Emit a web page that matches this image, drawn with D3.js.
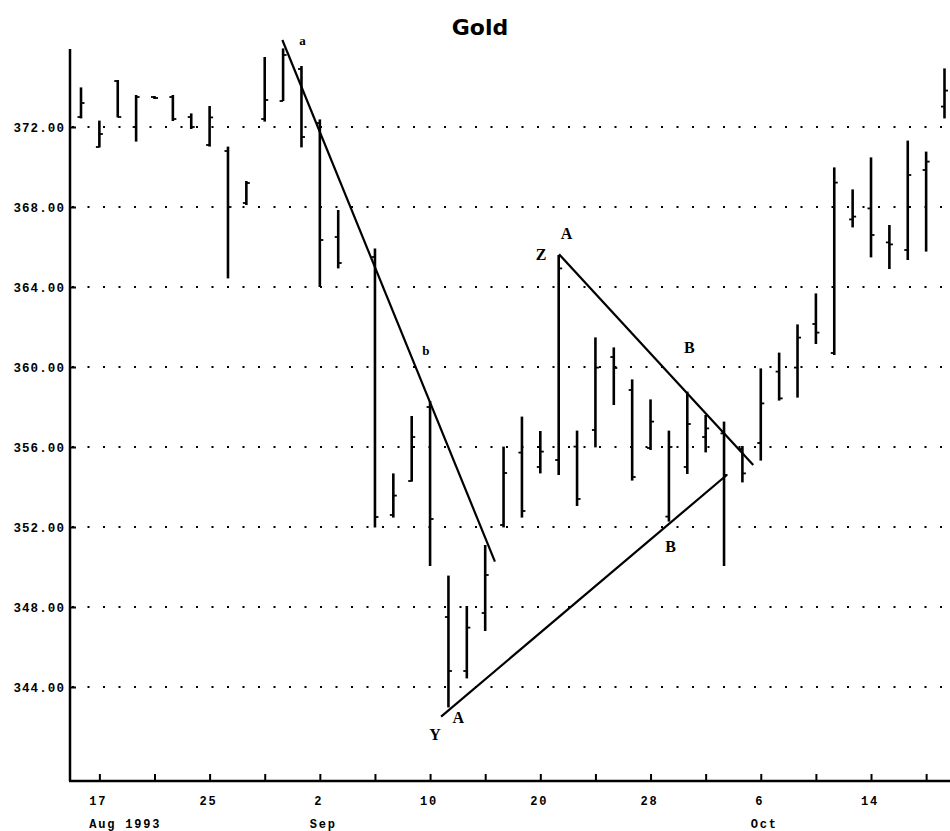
<!DOCTYPE html>
<html>
<head>
<meta charset="utf-8">
<script src="https://cdn.jsdelivr.net/npm/d3@7"></script>
<style>
  html, body { margin: 0; padding: 0; background: #fff; }
  svg { display: block; }
</style>
</head>
<body>
<svg id="chart" width="950" height="831"></svg>
<script>
// ---- data ----
const dates = ["Aug 16","Aug 17","Aug 18","Aug 19","Aug 20","Aug 23","Aug 24","Aug 25","Aug 26","Aug 27",
  "Aug 30","Aug 31","Sep 1","Sep 2","Sep 3","Sep 6","Sep 7","Sep 8","Sep 9","Sep 10",
  "Sep 13","Sep 14","Sep 15","Sep 16","Sep 17","Sep 20","Sep 21","Sep 22","Sep 23","Sep 24",
  "Sep 27","Sep 28","Sep 29","Sep 30","Oct 1","Oct 4","Oct 5","Oct 6","Oct 7","Oct 8",
  "Oct 11","Oct 12","Oct 13","Oct 14","Oct 15","Oct 18","Oct 19","Oct 20"];
const open  = [372.5,371.0,374.3,372.0,373.5,373.5,372.5,371.1,370.8,368.2,
  372.4,373.3,374.9,372.2,366.5,null,365.5,352.6,354.3,358.0,
  347.5,344.8,347.7,352.1,355.72,355.0,355.35,356.02,356.85,360.5,
  358.85,355.95,352.52,355.0,356.5,356.68,355.9,356.2,359.77,359.97,
  362.15,360.7,367.38,367.93,366.23,365.85,369.85,373.02];
const high  = [373.98,372.32,374.35,373.6,373.55,373.6,372.68,373.05,371.02,369.3,
  375.5,375.93,375.05,372.38,367.85,null,365.93,354.68,357.55,358.3,
  349.57,348.05,351.1,356.02,357.52,356.8,365.6,356.82,361.48,360.98,
  359.38,358.38,356.82,358.77,357.6,357.27,356.05,359.93,360.72,362.13,
  363.68,369.98,368.88,370.48,367.1,371.32,370.77,374.93];
const low   = [372.43,370.98,372.48,371.27,373.4,372.3,371.9,371.02,364.43,368.1,
  372.27,373.3,370.98,364.0,364.93,null,351.98,352.47,354.27,350.05,
  342.98,344.43,346.8,351.98,352.47,354.68,354.6,353.05,355.98,358.1,
  354.32,355.85,352.27,354.65,355.73,350.05,354.23,355.32,358.32,358.47,
  361.15,360.6,366.98,365.48,364.9,365.35,365.77,372.43];
const close = [373.2,371.65,372.5,373.5,373.45,372.4,372.0,372.48,368.0,369.2,
  373.35,375.6,371.5,366.35,365.2,null,352.5,353.57,356.5,352.4,
  344.8,346.97,349.6,354.7,352.8,355.77,364.93,353.4,359.97,359.95,
  354.5,357.27,356.0,357.15,356.93,354.6,354.68,358.18,358.43,361.47,
  361.72,369.22,367.52,366.6,366.13,369.6,370.27,373.82];

const yTicks = [344, 348, 352, 356, 360, 364, 368, 372];
const xTickIdx = [1,4,7,10,13,16,19,22,25,28,31,34,37,40,43,46];
const xLabelIdx = [1,7,13,19,25,31,37,43];
const xLabels = ["17","25","2","10","20","28","6","14"];
const monthIdx = [1,13,37];
const monthLabels = ["Aug 1993","Sep","Oct"];

// trend lines: [slot index, price]
const lineA = [[10.96,376.35],[22.53,350.27]];
const lineUpper = [[26.02,365.64],[36.59,355.1]];
const lineLower = [[19.6,342.52],[35.15,354.6]];
const smallNotes = [["a",12.05,376.1],["b",18.77,360.6]];
const bigNotes = [["Z",25.04,365.35],["A",26.43,366.4],["B",33.11,360.69],
  ["B",32.09,350.75],["Y",19.27,341.35],["A",20.54,342.18]];

// ---- chart ----
const svg = d3.select("#chart");
const x = d3.scaleLinear().domain([0, dates.length - 1]).range([81, 944.5]);
const y = d3.scaleLinear().domain([344, 372]).range([687, 127]);
const axisX = 70, yBottom = y(339.3), yTop = y(375.9);

// title
svg.append("text").attr("x", 480).attr("y", 35).attr("text-anchor", "middle")
  .style("font-family", "'DejaVu Sans', sans-serif").style("font-weight", "bold")
  .style("font-size", "22px").text("Gold");

// gridlines
svg.append("g").selectAll("line").data(yTicks).join("line")
  .attr("x1", axisX + 2).attr("x2", 950)
  .attr("y1", d => y(d)).attr("y2", d => y(d))
  .attr("stroke", "#000").attr("stroke-width", 2)
  .attr("stroke-dasharray", "2,13.5");

// y axis
const gy = svg.append("g").attr("transform", `translate(${axisX},0)`)
  .call(d3.axisLeft(y).tickValues(yTicks).tickFormat(d3.format(".2f"))
    .tickSizeInner(-6).tickSizeOuter(0).tickPadding(5));
gy.select(".domain").remove();
gy.selectAll(".tick line").attr("stroke", "#000").attr("stroke-width", 2);
gy.selectAll(".tick text").style("font-family", "'Liberation Mono', monospace")
  .style("font-weight", "bold").style("font-size", "12.5px").style("letter-spacing", "1.1px")
  .attr("fill", "#000");

svg.append("line").attr("x1", axisX).attr("x2", axisX).attr("y1", yTop).attr("y2", yBottom)
  .attr("stroke", "#000").attr("stroke-width", 2.5);

// x axis
const gx = svg.append("g").attr("transform", `translate(0,${yBottom})`)
  .call(d3.axisBottom(x).tickValues(xTickIdx).tickFormat("").tickSizeInner(-7).tickSizeOuter(0));
gx.select(".domain").remove();
gx.selectAll(".tick line").attr("stroke", "#000").attr("stroke-width", 2);
svg.append("line").attr("x1", axisX - 1).attr("x2", 950).attr("y1", yBottom).attr("y2", yBottom)
  .attr("stroke", "#000").attr("stroke-width", 2.5);

const labFont = sel => sel.style("font-family", "'Liberation Mono', monospace")
  .style("font-weight", "bold").style("font-size", "12px").style("letter-spacing", "1.8px");
svg.append("g").selectAll("text").data(xLabelIdx).join("text")
  .attr("x", d => x(d) - 1).attr("y", yBottom + 24).attr("text-anchor", "middle")
  .call(labFont).text((d, i) => xLabels[i]);
svg.append("g").selectAll("text").data(monthIdx).join("text")
  .attr("x", d => x(d) - 10).attr("y", yBottom + 47).attr("text-anchor", "start")
  .call(labFont).text((d, i) => monthLabels[i]);

// OHLC bars
const idx = d3.range(dates.length).filter(i => high[i] != null);
const bars = svg.append("g").attr("stroke", "#000").attr("stroke-width", 2.6);
bars.selectAll("line.hl").data(idx).join("line").attr("class", "hl")
  .attr("x1", i => x(i)).attr("x2", i => x(i))
  .attr("y1", i => y(high[i])).attr("y2", i => y(low[i]));
bars.selectAll("line.o").data(idx).join("line").attr("class", "o")
  .attr("stroke-width", 1.8)
  .attr("x1", i => x(i) - 3.5).attr("x2", i => x(i))
  .attr("y1", i => y(open[i])).attr("y2", i => y(open[i]));
bars.selectAll("line.c").data(idx).join("line").attr("class", "c")
  .attr("stroke-width", 1.8)
  .attr("x1", i => x(i)).attr("x2", i => x(i) + 3.5)
  .attr("y1", i => y(close[i])).attr("y2", i => y(close[i]));

// trend lines
const lineGen = d3.line().x(d => x(d[0])).y(d => y(d[1]));
svg.append("g").selectAll("path").data([lineA, lineUpper, lineLower]).join("path")
  .attr("d", lineGen).attr("fill", "none").attr("stroke", "#000").attr("stroke-width", 2.2);

// annotations
svg.append("g").selectAll("text").data(smallNotes).join("text")
  .attr("x", d => x(d[1])).attr("y", d => y(d[2])).attr("text-anchor", "middle")
  .style("font-family", "'Liberation Serif', serif").style("font-weight", "bold")
  .style("font-size", "13px").text(d => d[0]);
svg.append("g").selectAll("text").data(bigNotes).join("text")
  .attr("x", d => x(d[1])).attr("y", d => y(d[2])).attr("text-anchor", "middle")
  .style("font-family", "'Liberation Serif', serif").style("font-weight", "bold")
  .style("font-size", "16px").text(d => d[0]);
</script>
</body>
</html>
